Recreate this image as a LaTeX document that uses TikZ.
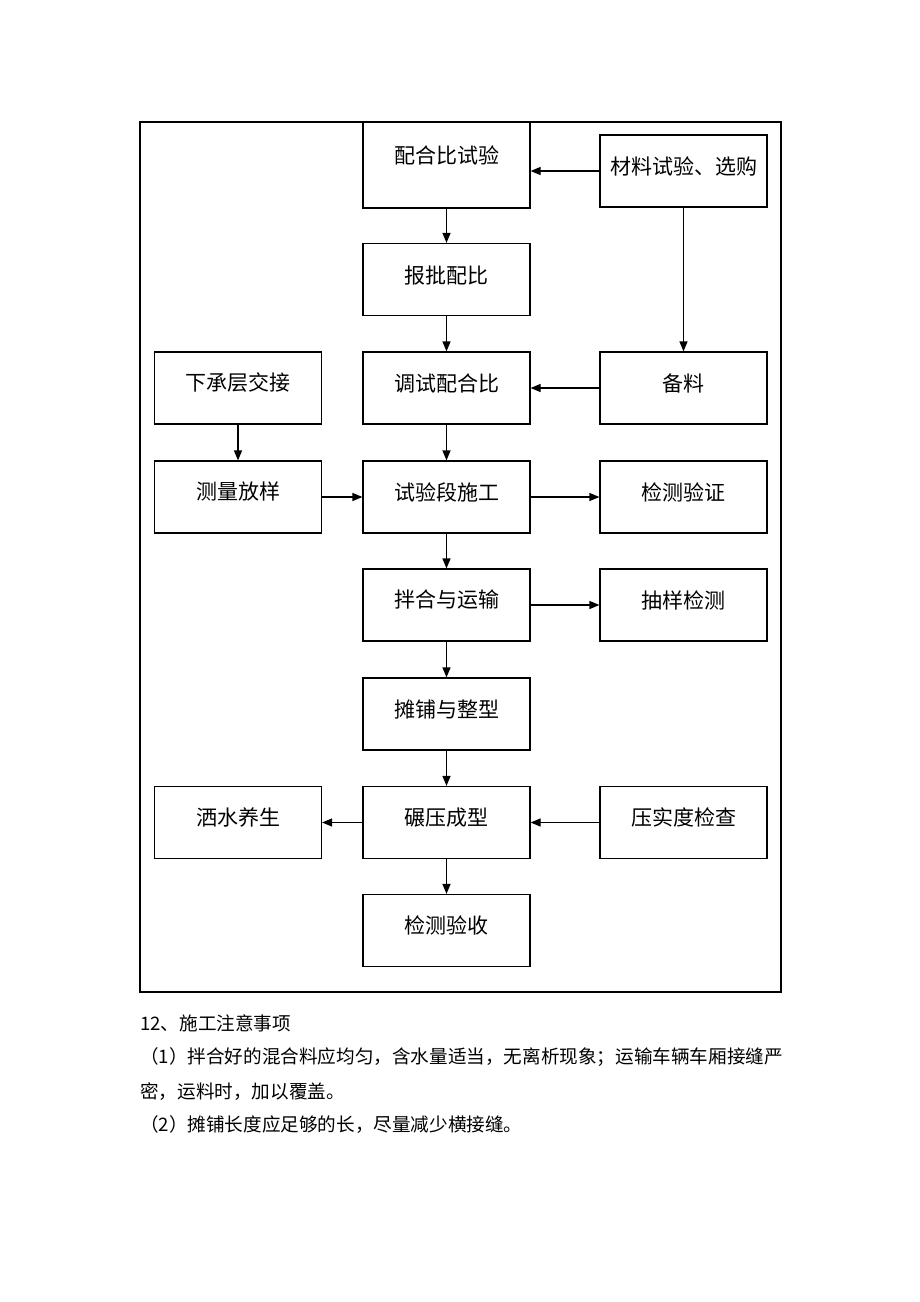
\documentclass[tikz,border=0pt]{standalone}
\usepackage{fontspec}
\newfontfamily\cjk{Noto Sans CJK SC}
\usetikzlibrary{arrows.meta,calc}
\tikzset{
  box/.style={draw=black,line width=1.2pt,rectangle,minimum width=167pt,minimum height=72pt,inner sep=0pt},
  boxtext/.style={font=\cjk\fontsize{21}{25}\selectfont},
  conn/.style={line width=1.2pt,-{Triangle[length=10pt,width=8pt]}},
  para/.style={font=\cjk\fontsize{18.6}{22}\selectfont,anchor=west,inner sep=0pt}
}
\begin{document}
\begin{tikzpicture}[x=1pt,y=-1pt]
\useasboundingbox[fill=white] (0,0) rectangle (920,1302);
\draw[line width=1.3pt] (140,122) rectangle (781,992);
% center column
\node[box,minimum height=86pt,label={[boxtext,yshift=10pt]center:配合比试验}] (pbs) at (446.5,165) {};
\node[box,label={[boxtext,yshift=4pt]center:报批配比}] (bp) at (446.5,279.5) {};
\node[box,label={[boxtext,yshift=5pt]center:调试配合比}] (ts) at (446.5,388) {};
\node[box,label={[boxtext,yshift=5pt]center:试验段施工}] (syd) at (446.5,497) {};
\node[box,label={[boxtext,yshift=5pt]center:拌合与运输}] (bh) at (446.5,605) {};
\node[box,label={[boxtext,yshift=5pt]center:摊铺与整型}] (tp) at (446.5,714) {};
\node[box,label={[boxtext,yshift=5pt]center:碾压成型}] (ny) at (446.5,822.5) {};
\node[box,label={[boxtext,yshift=5pt]center:检测验收}] (jcys) at (446.5,930.5) {};
% left column
\node[box,label={[boxtext,yshift=5pt]center:下承层交接}] (xcc) at (238,388) {};
\node[box,label={[boxtext,yshift=5pt]center:测量放样}] (clfy) at (238,497) {};
\node[box,label={[boxtext,yshift=5pt]center:洒水养生}] (ss) at (238,822.5) {};
% right column
\node[box,label={[boxtext,yshift=5pt]center:材料试验、选购}] (cl) at (683.5,171) {};
\node[box,label={[boxtext,yshift=5pt]center:备料}] (bl) at (683.5,388) {};
\node[box,label={[boxtext,yshift=5pt]center:检测验证}] (jcyz) at (683.5,497) {};
\node[box,label={[boxtext,yshift=5pt]center:抽样检测}] (cyjc) at (683.5,605) {};
\node[box,label={[boxtext,yshift=5pt]center:压实度检查}] (ysd) at (683.5,822.5) {};
% connectors
\draw[conn] (cl.west) -- (cl.west -| pbs.east);
\draw[conn] (cl.south) -- (bl.north);
\draw[conn] (bl.west) -- (ts.east);
\draw[conn] (pbs.south) -- (bp.north);
\draw[conn] (bp.south) -- (ts.north);
\draw[conn] (ts.south) -- (syd.north);
\draw[conn] (syd.south) -- (bh.north);
\draw[conn] (bh.south) -- (tp.north);
\draw[conn] (tp.south) -- (ny.north);
\draw[conn] (ny.south) -- (jcys.north);
\draw[conn] (xcc.south) -- (clfy.north);
\draw[conn] (clfy.east) -- (syd.west);
\draw[conn] (syd.east) -- (jcyz.west);
\draw[conn] (bh.east) -- (cyjc.west);
\draw[conn] (ny.west) -- (ss.east);
\draw[conn] (ysd.west) -- (ny.east);
% text below
\node[para] (t1) at (140,1023) {12、施工注意事项};
\node[para] (t2) at (140,1057) {（1）拌合好的混合料应均匀，含水量适当，无离析现象；运输车辆车厢接缝严};
\node[para] (t3) at (140,1092) {密，运料时，加以覆盖。};
\node[para] (t4) at (140,1125) {（2）摊铺长度应足够的长，尽量减少横接缝。};
\end{tikzpicture}
\end{document}
